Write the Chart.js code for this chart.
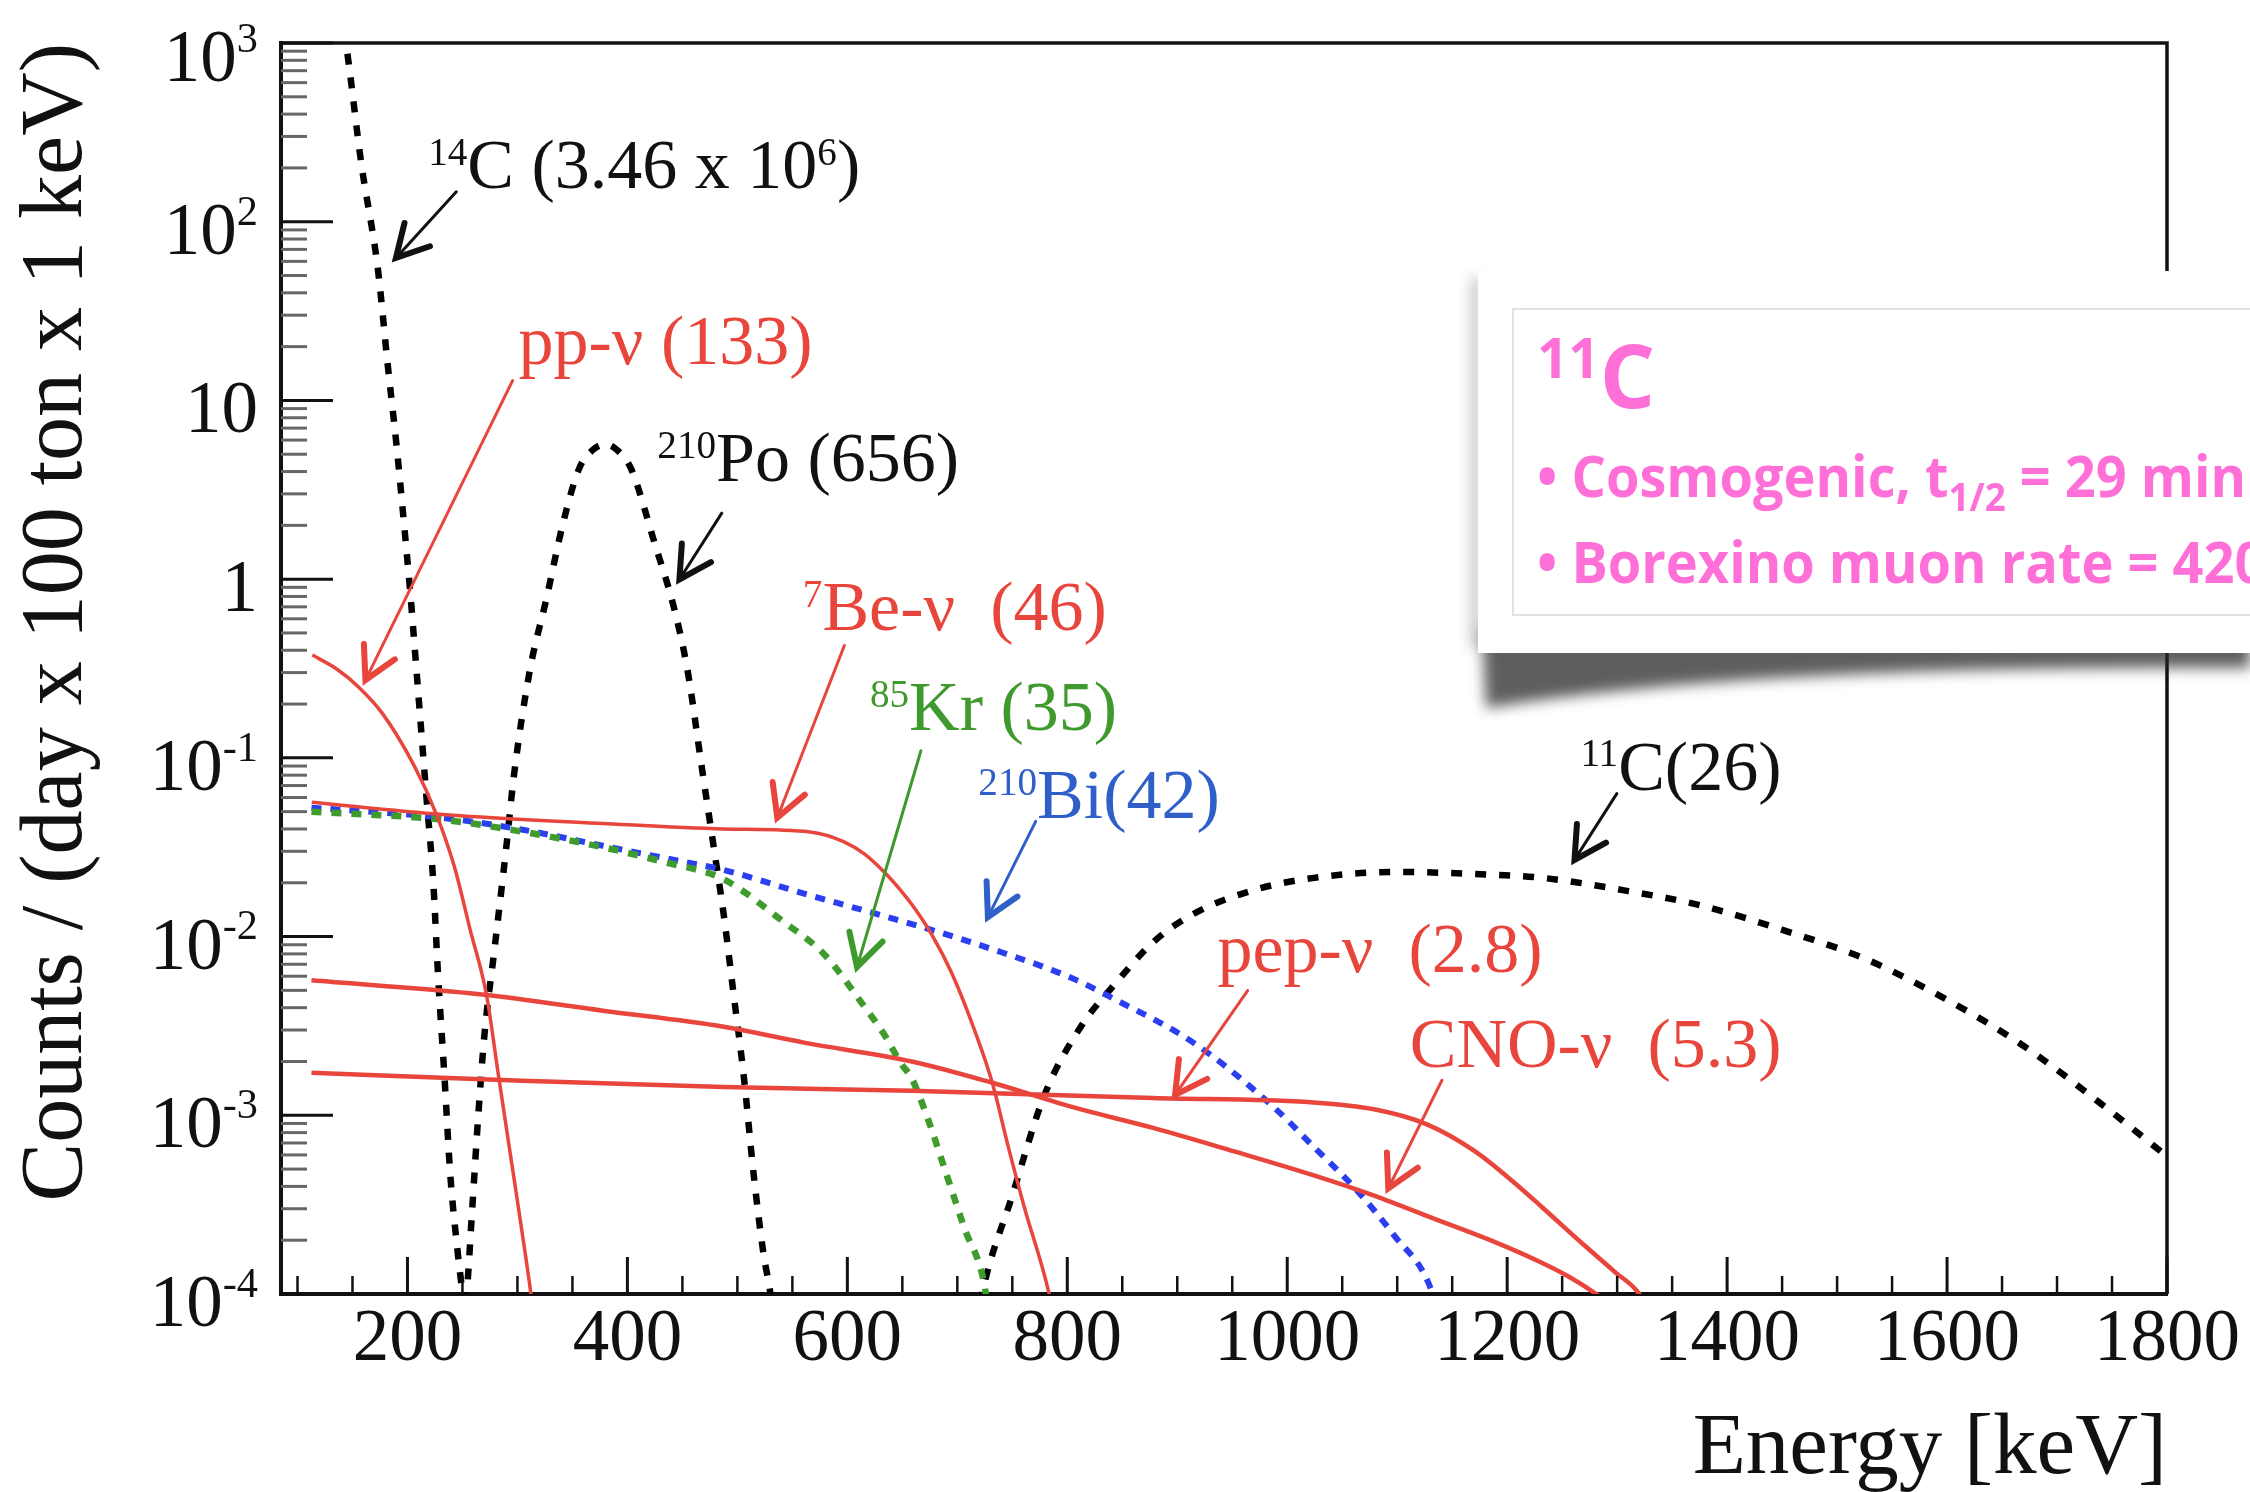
<!DOCTYPE html>
<html>
<head>
<meta charset="utf-8">
<script src="https://cdn.jsdelivr.net/npm/chart.js@4.4.1/dist/chart.umd.min.js"></script>
<style>
  html, body { margin: 0; padding: 0; background: #fff; }
  #wrap { width: 2250px; height: 1492px; }
</style>
</head>
<body>
<div id="wrap"><canvas id="spectrum" width="2250" height="1492"></canvas></div>
<script>
// Energy in keV, rates in counts / (day x 100 ton x 1 keV)
const c14Energy = [138, 144, 158, 173, 182, 190, 197, 202, 208, 217, 223.5, 228, 233.5, 239, 246, 250, 251];
const c14Counts = [1600, 1000, 212, 55, 15.9, 5.65, 2.0, 0.92, 0.32, 0.063, 0.020, 0.0058, 0.0017, 0.00046, 0.000164, 0.0001, 0.000085];

const po210Energy = [252, 254.2, 258.5, 264.4, 270, 279, 290, 297, 311, 326.6, 341, 356, 368, 380, 392, 403.4, 425.3, 441.8, 454.6, 467.4, 478.3, 487.5, 496.6, 505.7, 514.9, 524, 529.5, 531];
const po210Counts = [0.000089, 0.000108, 0.000275, 0.001, 0.00282, 0.00838, 0.0322, 0.0813, 0.302, 0.789, 2.0, 4.14, 5.25, 5.69, 5.19, 4.14, 1.55, 0.713, 0.311, 0.0906, 0.0322, 0.01337, 0.00474, 0.00168, 0.000461, 0.000164, 0.000106, 0.000089];

const c11Energy = [721, 722.7, 750, 779.3, 812.3, 841.5, 878, 914.6, 969.5, 1024.3, 1097.4, 1170.5, 1232, 1305, 1378, 1451, 1524.5, 1597.6, 1670.7, 1744, 1800];
const c11Counts = [0.000089, 0.000102, 0.000356, 0.0013, 0.00313, 0.00526, 0.00929, 0.01337, 0.0182, 0.0213, 0.0230, 0.0224, 0.0213, 0.0182, 0.01483, 0.01086, 0.00755, 0.00451, 0.00242, 0.00111, 0.000589];

const ppEnergy = [113.5, 135, 155, 177, 206, 226, 242.5, 257.1, 271.8, 282.7, 293.7, 304.7, 312, 313.5];
const ppCounts = [0.376, 0.316, 0.251, 0.178, 0.0906, 0.0488, 0.0248, 0.01086, 0.00474, 0.00168, 0.000598, 0.000212, 0.000103, 0.000087];

const be7Energy = [113, 231.5, 377.8, 487.5, 566, 597, 615.4, 633.7, 648.3, 658.7, 677, 695.3, 717.2, 731.8, 746.4, 761, 783, 785];
const be7Counts = [0.0564, 0.0482, 0.0429, 0.040, 0.0385, 0.0339, 0.029, 0.0229, 0.0182, 0.0151, 0.0102, 0.00617, 0.00282, 0.00152, 0.000664, 0.000305, 0.000103, 0.000089];

const pepEnergy = [112.7, 304.7, 487.5, 658.6, 878, 1024, 1079, 1127, 1170.5, 1207, 1232, 1268.6, 1297.8, 1320, 1324];
const pepCounts = [0.00173, 0.00156, 0.00144, 0.00137, 0.00125, 0.00118, 0.00108, 0.00089, 0.00063, 0.000417, 0.000305, 0.000191, 0.000133, 0.0001, 0.000089];

const cnoEnergy = [112.7, 268, 377.8, 487.5, 560.6, 658.6, 731.8, 805, 878, 951, 1024.3, 1079, 1134, 1189, 1230, 1255, 1281, 1290];
const cnoCounts = [0.00569, 0.00474, 0.00385, 0.00313, 0.00255, 0.0020, 0.00152, 0.00111, 0.00085, 0.00063, 0.000461, 0.000355, 0.000263, 0.000195, 0.000151, 0.000126, 0.0001, 0.000091];

const kr85Energy = [112.7, 231.5, 304.7, 377.8, 432.6, 487.5, 542.3, 578.9, 615.4, 633.7, 648.3, 658.7, 673.3, 688, 706.2, 724.5, 727];
const kr85Counts = [0.050, 0.0451, 0.0386, 0.0316, 0.0262, 0.0209, 0.01205, 0.00796, 0.00406, 0.00282, 0.00197, 0.0016, 0.000953, 0.000512, 0.000236, 0.000114, 0.000089];

const bi210Energy = [112.7, 231.5, 304.7, 377.8, 450.9, 487.5, 560.6, 658.6, 731.8, 805, 841.5, 914.6, 987.7, 1024.3, 1060.9, 1097.4, 1130.3, 1134];
const bi210Counts = [0.0526, 0.0462, 0.0396, 0.0322, 0.0262, 0.0236, 0.0174, 0.01175, 0.0085, 0.00583, 0.00451, 0.00255, 0.00111, 0.000664, 0.000395, 0.000212, 0.000108, 0.000089];

const xMajorTicks = [200, 400, 600, 800, 1000, 1200, 1400, 1600, 1800];
const yDecades = [-4, -3, -2, -1, 0, 1, 2, 3];

const SERIF = '"Liberation Serif", "Times New Roman", serif';
const RED = '#e8453c';
const GREEN = '#3f9c2c';
const BLUE = '#2b3ff0';
const PINK = '#ff6fd8';

// labels with arrows, anchored in data coordinates [keV, counts]
// parts: [text, 1 = superscript]
const notes = [
  { parts: [['14', 1], ['C (3.46 x 10'], ['6', 1], [')']], color: '#111', at: [218.8, 155], from: [244.4, 147], to: [189.5, 62.7] },
  { parts: [['pp-ν (133)']], color: RED, at: [301, 15.9], from: [295.6, 12.9], to: [161.8, 0.2725] },
  { parts: [['210', 1], ['Po (656)']], color: '#111', at: [427.2, 3.54], from: [485.8, 2.34], to: [447.3, 0.996] },
  { parts: [['7', 1], ['Be-ν  (46)']], color: RED, at: [559.5, 0.519], from: [597.3, 0.4256], to: [536.3, 0.0462] },
  { parts: [['85', 1], ['Kr (35)']], color: '#3f9a2e', at: [620.5, 0.1439], from: [666.9, 0.1096], to: [608.8, 0.00676] },
  { parts: [['210', 1], ['Bi(42)']], color: '#2f5fc8', at: [719.1, 0.0462], from: [771.3, 0.0441], to: [727.8, 0.01285] },
  { parts: [['11', 1], ['C(26)']], color: '#111', at: [1266.6, 0.0665], from: [1299.7, 0.0631], to: [1261.2, 0.02685] },
  { parts: [['pep-ν  (2.8)']], color: RED, at: [936.5, 0.00631], from: [964, 0.00499], to: [898, 0.0013] },
  { parts: [['CNO-ν  (5.3)']], color: RED, at: [1111.4, 0.00187], from: [1140.7, 0.00157], to: [1091.9, 0.00039] }
];

function series(label, energy, counts, color, width, dash) {
  return {
    label: label,
    data: energy.map((e, i) => ({ x: e, y: counts[i] })),
    borderColor: color,
    borderWidth: width,
    borderDash: dash || [],
    borderCapStyle: 'butt',
    pointRadius: 0,
    fill: false,
    clip: 0,
    cubicInterpolationMode: 'monotone'
  };
}

// text with superscripts / subscripts, returns width
function drawRich(ctx, parts, x, y, size, o) {
  let cx = x;
  for (const [t, kind] of parts) {
    const s = kind ? size * o.small : size;
    ctx.font = (o.weight || '') + ' ' + s + 'px ' + o.family;
    let dy = 0;
    if (kind === 1) dy = -size * o.rise;
    if (kind === -1) dy = size * o.drop;
    if (!o.measureOnly) ctx.fillText(t, cx, y + dy);
    cx += ctx.measureText(t).width;
  }
  return cx - x;
}

function arrow(ctx, x1, y1, x2, y2, color) {
  const ang = Math.atan2(y2 - y1, x2 - x1);
  const len = 36, spread = 0.5;
  ctx.save();
  ctx.strokeStyle = color;
  ctx.lineCap = 'round';
  ctx.lineWidth = 3;
  ctx.beginPath();
  ctx.moveTo(x1, y1);
  ctx.lineTo(x2, y2);
  ctx.stroke();
  ctx.lineWidth = 6;
  ctx.lineJoin = 'miter';
  ctx.beginPath();
  ctx.moveTo(x2 - len * Math.cos(ang - spread), y2 - len * Math.sin(ang - spread));
  ctx.lineTo(x2, y2);
  ctx.lineTo(x2 - len * Math.cos(ang + spread), y2 - len * Math.sin(ang + spread));
  ctx.stroke();
  ctx.restore();
}

const overlay = {
  id: 'overlay',
  beforeDraw(chart) {
    const ctx = chart.ctx;
    ctx.save();
    ctx.fillStyle = '#fff';
    ctx.fillRect(0, 0, chart.width, chart.height);
    ctx.restore();
  },
  afterDraw(chart) {
    const { ctx, chartArea: a, scales: { x, y } } = chart;
    ctx.save();

    // frame top and right
    ctx.strokeStyle = '#111';
    ctx.lineWidth = 3.5;
    ctx.beginPath();
    ctx.moveTo(a.left, a.top);
    ctx.lineTo(a.right, a.top);
    ctx.lineTo(a.right, a.bottom);
    ctx.stroke();

    // x ticks, drawn inward
    for (let v = 100; v <= 1800; v += 50) {
      const px = x.getPixelForValue(v);
      const major = v % 200 === 0;
      ctx.strokeStyle = '#111';
      ctx.lineWidth = major ? 3 : 2.5;
      ctx.beginPath();
      ctx.moveTo(px, a.bottom);
      ctx.lineTo(px, a.bottom - (major ? 37 : 18));
      ctx.stroke();
    }

    // y ticks (log decades with 2..9 minors), drawn inward
    for (const d of yDecades) {
      for (let k = 1; k <= 9; k++) {
        const v = k * Math.pow(10, d);
        if (v > 1000 * 1.0001) break;
        const py = y.getPixelForValue(v);
        const major = k === 1;
        ctx.strokeStyle = major ? '#111' : '#666';
        ctx.lineWidth = 3;
        ctx.beginPath();
        ctx.moveTo(a.left, py);
        ctx.lineTo(a.left + (major ? 52 : 26), py);
        ctx.stroke();
      }
    }

    // y tick labels
    ctx.fillStyle = '#111';
    ctx.textBaseline = 'alphabetic';
    ctx.textAlign = 'left';
    const yl = { family: SERIF, small: 0.58, rise: 0.40 };
    for (const d of yDecades) {
      let parts;
      if (d === 0) parts = [['1']];
      else if (d === 1) parts = [['10']];
      else parts = [['10'], [String(d), 1]];
      const w = drawRich(ctx, parts, 0, 0, 73, Object.assign({ measureOnly: true }, yl));
      const py = y.getPixelForValue(Math.pow(10, d));
      drawRich(ctx, parts, 258 - w, py + (d === 3 ? 38 : 32), 73, yl);
    }

    // annotations
    const al = { family: SERIF, small: 0.56, rise: 0.33 };
    for (const n of notes) {
      ctx.fillStyle = n.color;
      drawRich(ctx, n.parts, x.getPixelForValue(n.at[0]), y.getPixelForValue(n.at[1]), 70, al);
      arrow(ctx, x.getPixelForValue(n.from[0]), y.getPixelForValue(n.from[1]),
        x.getPixelForValue(n.to[0]), y.getPixelForValue(n.to[1]), n.color);
    }

    // pasted 11C note box with curled shadow
    ctx.save();
    ctx.filter = 'blur(7px)';
    ctx.fillStyle = 'rgba(40,40,40,0.75)';
    ctx.beginPath();
    ctx.moveTo(1482, 630);
    ctx.lineTo(2250, 630);
    ctx.lineTo(2250, 668);
    ctx.quadraticCurveTo(1760, 664, 1486, 708);
    ctx.closePath();
    ctx.fill();
    ctx.fillStyle = 'rgba(0,0,0,0.3)';
    ctx.fillRect(1472, 278, 8, 370);
    ctx.restore();

    ctx.fillStyle = '#fff';
    ctx.fillRect(1478, 271, 800, 382);
    ctx.strokeStyle = '#e2e2e2';
    ctx.lineWidth = 2;
    ctx.strokeRect(1513, 309, 800, 306);

    const SANS = '"Open Sans", "Noto Sans", sans-serif';
    ctx.fillStyle = PINK;
    const head = { family: SANS, weight: '700', small: 0.63, rise: 0.35 };
    drawRich(ctx, [['11', 1], ['C']], 1537, 408, 87, head);

    const body = { family: SANS, weight: '700', small: 0.68, drop: 0.24 };
    const line1 = [['• Cosmogenic, t'], ['1/2', -1], [' = 29 min']];
    const w1 = drawRich(ctx, line1, 0, 0, 58, Object.assign({ measureOnly: true }, body));
    const sx = 709 / w1;
    ctx.save();
    ctx.translate(1537, 497);
    ctx.scale(sx, 1);
    drawRich(ctx, line1, 0, 0, 58, body);
    ctx.restore();
    ctx.save();
    ctx.translate(1537, 583);
    ctx.scale(sx, 1);
    drawRich(ctx, [['• Borexino muon rate = 420']], 0, 0, 58, body);
    ctx.restore();

    ctx.restore();
  }
};

new Chart(document.getElementById('spectrum'), {
  type: 'line',
  data: {
    datasets: [
      series('pp-ν', ppEnergy, ppCounts, RED, 3.5),
      series('7Be-ν', be7Energy, be7Counts, RED, 3.5),
      series('pep-ν', pepEnergy, pepCounts, RED, 4.5),
      series('CNO-ν', cnoEnergy, cnoCounts, RED, 4.5),
      series('85Kr', kr85Energy, kr85Counts, GREEN, 6.5, [10, 10]),
      series('210Bi', bi210Energy, bi210Counts, BLUE, 6, [10, 9]),
      series('14C', c14Energy, c14Counts, '#000', 6.5, [11, 13]),
      series('210Po', po210Energy, po210Counts, '#000', 6.5, [11, 13]),
      series('11C', c11Energy, c11Counts, '#000', 6.5, [11, 13])
    ]
  },
  options: {
    responsive: false,
    animation: false,
    events: [],
    layout: { padding: { left: 0, right: 83, top: 43, bottom: 0 } },
    plugins: { legend: { display: false }, tooltip: { enabled: false } },
    scales: {
      x: {
        type: 'linear',
        min: 85,
        max: 1800,
        grid: { display: false },
        border: { display: true, color: '#111', width: 4 },
        afterBuildTicks: (s) => { s.ticks = xMajorTicks.map(v => ({ value: v })); },
        afterFit: (s) => { s.height = 198; },
        ticks: {
          autoSkip: false,
          maxRotation: 0,
          padding: -5,
          color: '#111',
          font: { family: SERIF, size: 73 },
          callback: (v) => String(v)
        },
        title: {
          display: true,
          text: 'Energy [keV]',
          align: 'end',
          color: '#111',
          font: { family: SERIF, size: 87 },
          padding: { top: 0, bottom: -10 }
        }
      },
      y: {
        type: 'logarithmic',
        min: 1e-4,
        max: 1e3,
        grid: { display: false },
        border: { display: true, color: '#111', width: 4 },
        ticks: { display: false },
        afterFit: (s) => { s.width = 281; },
        title: {
          display: true,
          text: 'Counts / (day x 100 ton x 1 keV)',
          align: 'end',
          color: '#111',
          font: { family: SERIF, size: 88 },
          padding: { top: 5, bottom: 0 }
        }
      }
    }
  },
  plugins: [overlay]
});
</script>
</body>
</html>
